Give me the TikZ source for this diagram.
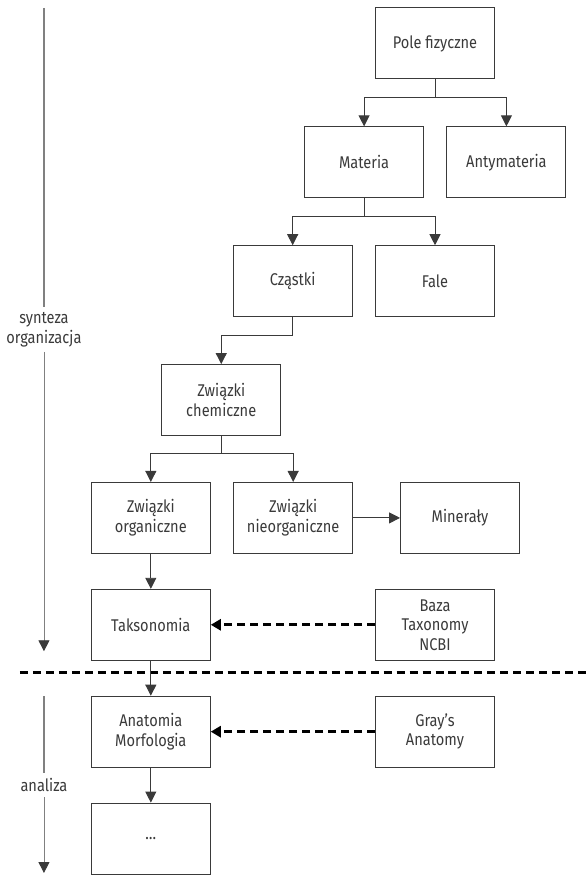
\documentclass[tikz,border=0pt]{standalone}
\usepackage{fontspec}
\setmainfont{Fira Sans}[FakeStretch=0.86]
\usetikzlibrary{arrows.meta, positioning}
\definecolor{linegray}{HTML}{3A3A3A}

\begin{document}
\begin{tikzpicture}[
    x=1pt, y=-1pt,
    node distance=47pt and 22.5pt,
    box/.style={draw=linegray, line width=1pt, align=center, text=linegray, minimum width=119pt, minimum height=71pt, inner sep=2pt, font=\fontsize{17}{19.5}\selectfont},
    sidetext/.style={align=center, text=linegray, inner sep=5pt, font=\fontsize{17}{19.5}\selectfont},
    arrow/.style={-{Triangle[width=11pt,length=11pt,color=linegray]}, draw=linegray, line width=0.9pt},
    side/.style={draw=gray, line width=1.3pt},
    ref/.style={-{Triangle[width=11pt,length=10pt]}, line width=2.6pt, dash pattern=on 8pt off 5pt},
    sep/.style={line width=2.6pt, dash pattern=on 8pt off 5pt}
]
\useasboundingbox (0,0) rectangle (588,877);

% Nodes
\node[box] (pole) at (435.5,43.5) {Pole fizyczne};
\node[box] (materia) at (364.5,162.5) {Materia};
\node[box, right=of materia] (antymateria) {Antymateria};
\node[box] (czastki) at (293,281.5) {Cząstki};
\node[box, right=of czastki] (fale) {Fale};
\node[box] (chem) at (221.5,400.5) {Związki\\chemiczne};
\node[box] (org) at (151,518.5) {Związki\\organiczne};
\node[box, right=of org] (nieorg) {Związki\\nieorganiczne};
\node[box, right=47pt of nieorg] (mineraly) {Minerały};
\node[box, below=35pt of org] (takso) {Taksonomia};
\node[box] (ncbi) at (takso -| fale) {Baza\\Taxonomy\\NCBI};
\node[box, below=35pt of takso] (anatomia) {Anatomia\\Morfologia};
\node[box] (gray) at (anatomia -| fale) {Gray's\\Anatomy};
\node[box, below=35pt of anatomia] (dots) {\dots};

% Side arrows
\coordinate (syntop) at (44,8);
\node[sidetext] (synteza) at (44,330) {synteza\\organizacja};
\coordinate (synbot) at (44,652);
\coordinate (anatop) at (44,697);
\node[sidetext] (analiza) at (44,786) {analiza};
\coordinate (anabot) at (44,874);
\draw[side] (syntop) -- (synteza);
\draw[side, arrow, draw=gray] (synteza) -- (synbot);
\draw[side] (anatop) -- (analiza);
\draw[side, arrow, draw=gray] (analiza) -- (anabot);

% Separator
\coordinate (sepL) at (20,673);
\coordinate (sepR) at (588,673);
\draw[sep] (sepL) -- (sepR);

% Arrows
\draw[arrow] (pole.south) -- ++(0,18) -| (materia.north);
\draw[arrow] (pole.south) -- ++(0,18) -| (antymateria.north);
\draw[arrow] (materia.south) -- ++(0,18) -| (czastki.north);
\draw[arrow] (materia.south) -- ++(0,18) -| (fale.north);
\draw[arrow] (czastki.south) -- ++(0,18) -| (chem.north);
\draw[arrow] (chem.south) -- ++(0,17) -| (org.north);
\draw[arrow] (chem.south) -- ++(0,17) -| (nieorg.north);
\draw[arrow] (nieorg) -- (mineraly);
\draw[arrow] (org) -- (takso);
\draw[arrow] (takso) -- (anatomia);
\draw[arrow] (anatomia) -- (dots);
\draw[ref] (ncbi) -- (takso);
\draw[ref] (gray) -- (anatomia);

\end{tikzpicture}
\end{document}
